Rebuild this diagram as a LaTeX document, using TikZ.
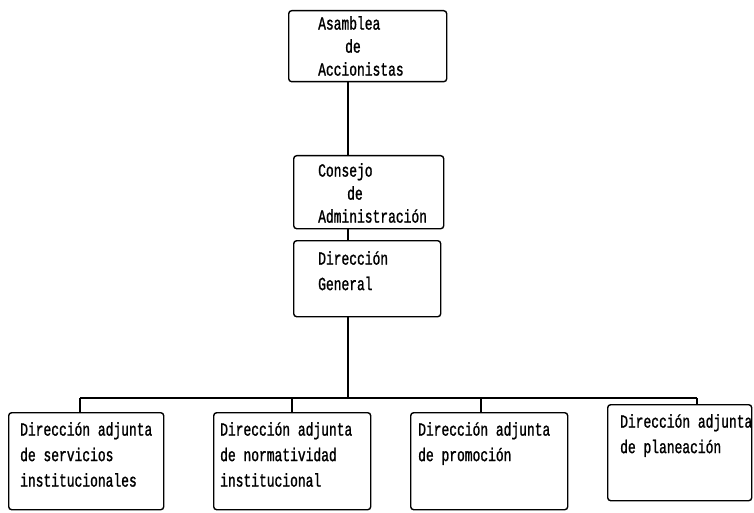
\documentclass[tikz,border=0pt]{standalone}
\usepackage{fontspec}
\newfontfamily\orgfont[FakeStretch=0.7,FakeBold=1.2]{Liberation Mono}
\begin{document}
\begin{tikzpicture}[x=1pt,y=-1pt,
  orgbox/.style={draw,line width=1.4pt,rounded corners=3pt,anchor=north west,inner sep=0pt},
  orgtext/.style={anchor=north west,align=left,inner sep=0pt,
    font=\orgfont\fontsize{18.5pt}{23pt}\selectfont},
  linespaced/.style={font=\orgfont\fontsize{18.5pt}{25.5pt}\selectfont},
  link/.style={line width=1.2pt}]
\useasboundingbox (0,0) rectangle (754,513);

% boxes
\node[orgbox,minimum width=158pt,minimum height=71pt] (b1) at (288,10) {};
\node[orgbox,minimum width=150pt,minimum height=73pt] (b2) at (293,155) {};
\node[orgbox,minimum width=147pt,minimum height=76pt] (b3) at (293,240) {};
\node[orgbox,minimum width=155pt,minimum height=97pt] (bA) at (8,412) {};
\node[orgbox,minimum width=157pt,minimum height=97pt] (bB) at (213,412) {};
\node[orgbox,minimum width=157pt,minimum height=97pt] (bC) at (410,412) {};
\node[orgbox,minimum width=144pt,minimum height=96pt] (bD) at (607,404) {};

% texts
\node[orgtext] (t1) at (318,16) {Asamblea\\\hspace*{27pt}de\\Accionistas};
\node[orgtext] (t2) at (318,163) {Consejo\\\hspace*{29pt}de\\Administración};
\node[orgtext,linespaced] (t3) at (318,251) {Dirección\\General};
\node[orgtext,linespaced] (tA) at (20,422) {Dirección adjunta\\de servicios\\institucionales};
\node[orgtext,linespaced] (tB) at (220,422) {Dirección adjunta\\de normatividad\\institucional};
\node[orgtext,linespaced] (tC) at (418,422) {Dirección adjunta\\de promoción};
\node[orgtext,linespaced] (tD) at (620,414) {Dirección adjunta\\de planeación};

% connectors
\coordinate (bus) at (348,398);
\coordinate (dA) at (80,398);
\coordinate (dB) at (292,398);
\coordinate (dC) at (481,398);
\coordinate (dD) at (697,398);
\draw[link] (b1.south -| bus) -- (b2.north -| bus);
\draw[link] (b2.south -| bus) -- (b3.north -| bus);
\draw[link] (b3.south -| bus) -- (bus);
\draw[link] (dA) -- (dD);
\draw[link] (dA) -- (dA |- bA.north);
\draw[link] (dB) -- (dB |- bB.north);
\draw[link] (dC) -- (dC |- bC.north);
\draw[link] (dD) -- (dD |- bD.north);
\end{tikzpicture}
\end{document}
